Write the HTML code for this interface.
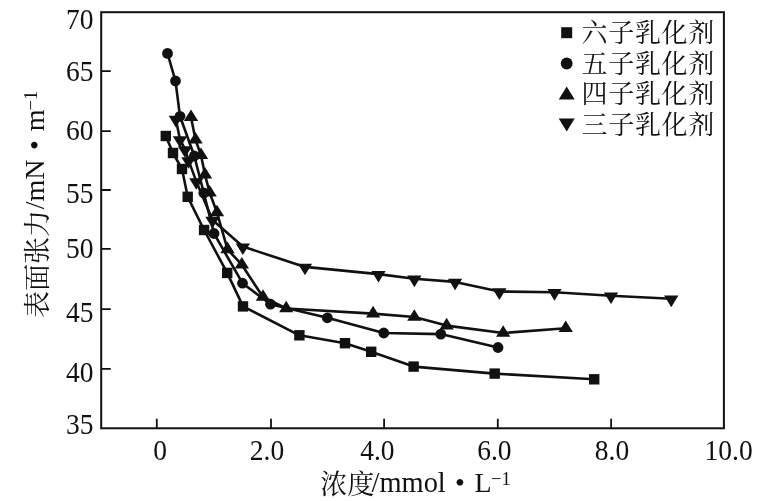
<!DOCTYPE html>
<html lang="zh"><head><meta charset="utf-8"><title>表面张力-浓度</title>
<style>html,body{margin:0;padding:0;background:#fff}body{width:762px;height:501px;overflow:hidden}svg{display:block;will-change:transform}text{font-family:"Liberation Serif","Noto Serif CJK SC",serif;fill:#111}.t{font-size:27.5px}.l{font-size:28px}.g{font-size:26px;letter-spacing:0.7px}</style></head><body>
<svg width="762" height="501" viewBox="0 0 762 501">
<rect x="0" y="0" width="762" height="501" fill="#fff"/>
<rect x="101.2" y="12.2" width="622.7" height="416.1" fill="none" stroke="#111" stroke-width="2"/>
<path d="M101.2 71.1h9.6M101.2 131.1h9.6M101.2 190.0h9.6M101.2 248.9h9.6M101.2 309.1h9.6M101.2 368.9h9.6M156.8 428.3v-9.6M271.0 428.3v-9.6M384.1 428.3v-9.6M497.8 428.3v-9.6M611.1 428.3v-9.6" stroke="#111" stroke-width="1.8" fill="none"/>
<text class="t" transform="translate(93.6,29.2) scale(1,1.045)" text-anchor="end">70</text>
<text class="t" transform="translate(93.6,80.5) scale(1,1.045)" text-anchor="end">65</text>
<text class="t" transform="translate(93.6,140.4) scale(1,1.045)" text-anchor="end">60</text>
<text class="t" transform="translate(93.6,203.2) scale(1,1.045)" text-anchor="end">55</text>
<text class="t" transform="translate(93.6,258.4) scale(1,1.045)" text-anchor="end">50</text>
<text class="t" transform="translate(93.6,321.8) scale(1,1.045)" text-anchor="end">45</text>
<text class="t" transform="translate(93.6,381.8) scale(1,1.045)" text-anchor="end">40</text>
<text class="t" transform="translate(93.6,433.7) scale(1,1.045)" text-anchor="end">35</text>
<text class="t" transform="translate(160.2,460.1) scale(1,1.045)" text-anchor="middle">0</text>
<text class="t" transform="translate(267.0,460.1) scale(1,1.045)" text-anchor="middle">2.0</text>
<text class="t" transform="translate(377.4,460.1) scale(1,1.045)" text-anchor="middle">4.0</text>
<text class="t" transform="translate(494.4,460.1) scale(1,1.045)" text-anchor="middle">6.0</text>
<text class="t" transform="translate(612.0,460.1) scale(1,1.045)" text-anchor="middle">8.0</text>
<text class="t" transform="translate(728.6,460.1) scale(1,1.045)" text-anchor="middle">10.0</text>
<text class="l" y="491.6"><tspan x="320.3" dy="2.4" font-size="27">浓度</tspan><tspan x="371.6" dy="-2.4" font-size="28.4">/mmol</tspan><tspan x="448.0" font-size="28"> • </tspan><tspan x="474.4">L</tspan><tspan font-size="18.6" dx="-0.6" dy="-6.9">−1</tspan></text>
<text class="l" transform="translate(44.4,318.0) rotate(-90)"><tspan x="0" dy="2.4" font-size="27">表面张力</tspan><tspan dy="-2.4" dx="0.8">/mN</tspan><tspan dx="2.4"> • </tspan><tspan dx="2">m</tspan><tspan font-size="18.6" dx="-1.0" dy="-7.0">−1</tspan></text>
<polyline points="165.8,136.0 173.0,153.0 182.0,169.0 187.7,196.8 204.1,230.0 227.2,272.9 243.0,306.4 299.4,335.3 345.0,343.2 371.2,351.8 413.6,366.6 494.7,373.6 594.2,379.3" fill="none" stroke="#111" stroke-width="2.6" stroke-linejoin="round"/>
<polyline points="167.5,53.4 175.5,81.0 180.0,116.3 194.3,156.0 203.8,193.0 214.0,233.5 242.5,283.2 270.5,304.2 327.3,317.8 383.8,333.0 440.8,334.1 498.0,347.5" fill="none" stroke="#111" stroke-width="2.6" stroke-linejoin="round"/>
<polyline points="191.0,117.3 195.5,139.8 201.0,155.3 205.0,174.8 209.7,192.8 217.0,212.5 227.5,249.4 241.8,264.7 263.0,297.0 286.2,308.5 373.1,313.6 414.3,317.0 446.6,325.6 503.2,333.0 565.7,328.3" fill="none" stroke="#111" stroke-width="2.6" stroke-linejoin="round"/>
<polyline points="175.8,119.0 180.0,139.4 185.0,149.4 188.5,160.4 196.3,181.4 212.5,219.9 242.8,246.6 305.0,266.9 378.5,274.1 414.4,278.8 455.1,281.9 499.4,291.5 554.5,292.3 611.0,295.7 671.3,298.8" fill="none" stroke="#111" stroke-width="2.6" stroke-linejoin="round"/>
<rect x="160.6" y="130.8" width="10.4" height="10.4" fill="#111"/>
<rect x="167.8" y="147.8" width="10.4" height="10.4" fill="#111"/>
<rect x="176.8" y="163.8" width="10.4" height="10.4" fill="#111"/>
<rect x="182.5" y="191.6" width="10.4" height="10.4" fill="#111"/>
<rect x="198.9" y="224.8" width="10.4" height="10.4" fill="#111"/>
<rect x="222.0" y="267.7" width="10.4" height="10.4" fill="#111"/>
<rect x="237.8" y="301.2" width="10.4" height="10.4" fill="#111"/>
<rect x="294.2" y="330.1" width="10.4" height="10.4" fill="#111"/>
<rect x="339.8" y="338.0" width="10.4" height="10.4" fill="#111"/>
<rect x="366.0" y="346.6" width="10.4" height="10.4" fill="#111"/>
<rect x="408.4" y="361.4" width="10.4" height="10.4" fill="#111"/>
<rect x="489.5" y="368.4" width="10.4" height="10.4" fill="#111"/>
<rect x="589.0" y="374.1" width="10.4" height="10.4" fill="#111"/>
<circle cx="167.5" cy="53.4" r="5.4" fill="#111"/>
<circle cx="175.5" cy="81.0" r="5.4" fill="#111"/>
<circle cx="180.0" cy="116.3" r="5.4" fill="#111"/>
<circle cx="194.3" cy="156.0" r="5.4" fill="#111"/>
<circle cx="203.8" cy="193.0" r="5.4" fill="#111"/>
<circle cx="214.0" cy="233.5" r="5.4" fill="#111"/>
<circle cx="242.5" cy="283.2" r="5.4" fill="#111"/>
<circle cx="270.5" cy="304.2" r="5.4" fill="#111"/>
<circle cx="327.3" cy="317.8" r="5.4" fill="#111"/>
<circle cx="383.8" cy="333.0" r="5.4" fill="#111"/>
<circle cx="440.8" cy="334.1" r="5.4" fill="#111"/>
<circle cx="498.0" cy="347.5" r="5.4" fill="#111"/>
<polygon points="191.0,109.5 198.2,121.1 183.8,121.1" fill="#111"/>
<polygon points="195.5,132.0 202.7,143.6 188.3,143.6" fill="#111"/>
<polygon points="201.0,147.5 208.2,159.1 193.8,159.1" fill="#111"/>
<polygon points="205.0,167.0 212.2,178.6 197.8,178.6" fill="#111"/>
<polygon points="209.7,185.0 216.8,196.6 202.5,196.6" fill="#111"/>
<polygon points="217.0,204.7 224.2,216.3 209.8,216.3" fill="#111"/>
<polygon points="227.5,241.6 234.7,253.2 220.3,253.2" fill="#111"/>
<polygon points="241.8,256.9 249.0,268.5 234.7,268.5" fill="#111"/>
<polygon points="263.0,289.2 270.1,300.8 255.8,300.8" fill="#111"/>
<polygon points="286.2,300.7 293.3,312.3 279.1,312.3" fill="#111"/>
<polygon points="373.1,305.8 380.2,317.4 366.0,317.4" fill="#111"/>
<polygon points="414.3,309.2 421.4,320.8 407.2,320.8" fill="#111"/>
<polygon points="446.6,317.8 453.8,329.4 439.5,329.4" fill="#111"/>
<polygon points="503.2,325.2 510.3,336.8 496.1,336.8" fill="#111"/>
<polygon points="565.7,320.5 572.9,332.1 558.6,332.1" fill="#111"/>
<polygon points="175.8,127.4 183.0,115.8 168.7,115.8" fill="#111"/>
<polygon points="180.0,147.8 187.2,136.2 172.8,136.2" fill="#111"/>
<polygon points="185.0,157.8 192.2,146.2 177.8,146.2" fill="#111"/>
<polygon points="188.5,168.8 195.7,157.2 181.3,157.2" fill="#111"/>
<polygon points="196.3,189.8 203.5,178.2 189.2,178.2" fill="#111"/>
<polygon points="212.5,228.3 219.7,216.7 205.3,216.7" fill="#111"/>
<polygon points="242.8,255.0 250.0,243.4 235.7,243.4" fill="#111"/>
<polygon points="305.0,275.3 312.1,263.7 297.9,263.7" fill="#111"/>
<polygon points="378.5,282.5 385.6,270.9 371.4,270.9" fill="#111"/>
<polygon points="414.4,287.2 421.5,275.6 407.2,275.6" fill="#111"/>
<polygon points="455.1,290.3 462.2,278.7 448.0,278.7" fill="#111"/>
<polygon points="499.4,299.9 506.5,288.3 492.2,288.3" fill="#111"/>
<polygon points="554.5,300.7 561.6,289.1 547.4,289.1" fill="#111"/>
<polygon points="611.0,304.1 618.1,292.5 603.9,292.5" fill="#111"/>
<polygon points="671.3,307.2 678.4,295.6 664.1,295.6" fill="#111"/>
<rect x="561.2" y="27.2" width="11" height="11" fill="#111"/>
<circle cx="566.7" cy="63.5" r="5.9" fill="#111"/>
<polygon points="566.7,86.6 574.7,99.4 558.7,99.4" fill="#111"/>
<polygon points="566.7,131.6 574.7,118.6 558.7,118.6" fill="#111"/>
<text class="g" x="581.5" y="42.0">六子乳化剂</text>
<text class="g" x="581.5" y="72.7">五子乳化剂</text>
<text class="g" x="581.5" y="103.0">四子乳化剂</text>
<text class="g" x="581.5" y="134.0">三子乳化剂</text>
</svg></body></html>
